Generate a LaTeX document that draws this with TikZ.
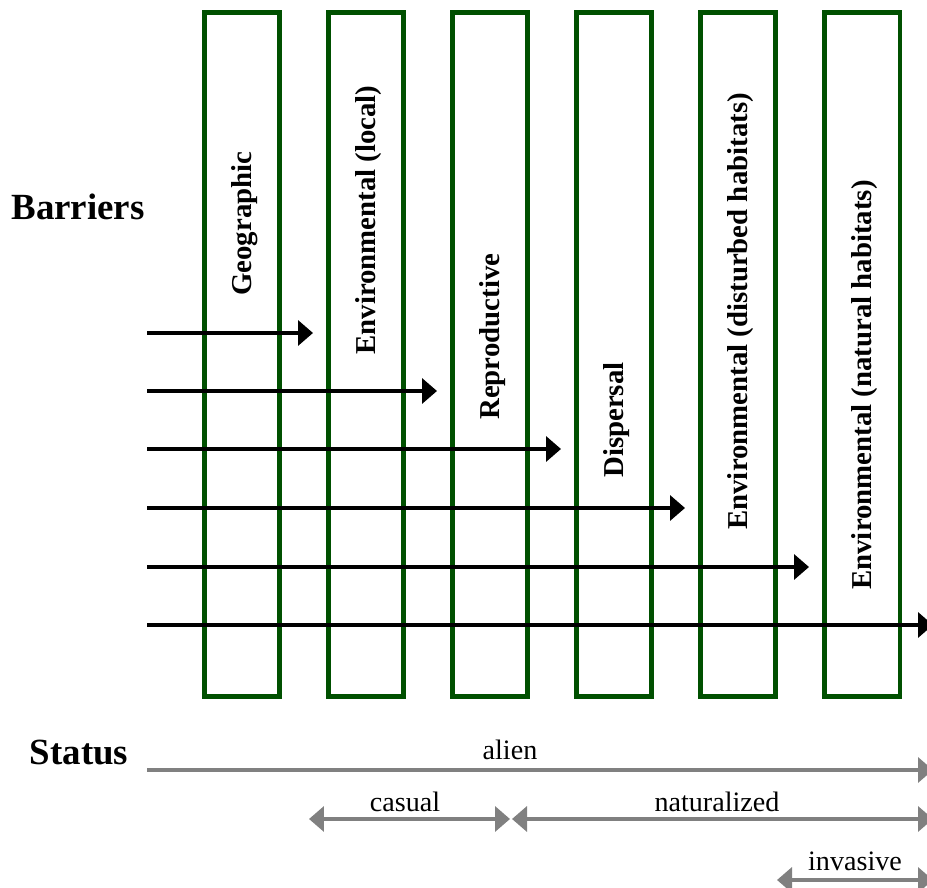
\documentclass[tikz,border=0pt]{standalone}
\usepackage{fontspec}
\setmainfont{Liberation Serif}
\usetikzlibrary{arrows.meta}
\definecolor{bargreen}{RGB}{0,80,0}
\definecolor{statgray}{RGB}{128,128,128}

\begin{document}
\begin{tikzpicture}[x=0.02cm, y=-0.02cm,
    barbox/.style={draw=bargreen, line width=0.1cm, rectangle, minimum width=1.52cm, minimum height=13.7cm, inner sep=0pt},
    barlabel/.style={rotate=90, anchor=west, inner sep=0pt, font=\fontsize{16.4}{18}\selectfont\bfseries},
    headtext/.style={font=\fontsize{21}{24}\selectfont\bfseries},
    stattext/.style={font=\fontsize{16}{18}\selectfont},
    passarrow/.style={-{Triangle[length=0.3cm, width=0.5cm]}, line width=0.07cm, draw=black},
    statarrow/.style={{Triangle[length=0.3cm, width=0.5cm]}-{Triangle[length=0.3cm, width=0.5cm]}, line width=0.07cm, draw=statgray},
    aliarrow/.style={-{Triangle[length=0.3cm, width=0.5cm]}, line width=0.07cm, draw=statgray}
]
\useasboundingbox (0,0) rectangle (927,888);

% barriers
\foreach \i/\xc/\yb/\txt in {1/242/296/Geographic,
                             2/366/355/Environmental (local),
                             3/490/420/Reproductive,
                             4/614/478/Dispersal,
                             5/738/530/Environmental (disturbed habitats),
                             6/862/590/Environmental (natural habitats)} {
    \node[barbox] (b\i) at (\xc,354.5) {};
    \node[barlabel] (t\i) at (\xc+3,\yb) {\txt};
}

\node[headtext] (barriers) at (78,207) {Barriers};

% passage arrows
\foreach \i/\y/\xe in {1/333/313, 2/391/437, 3/449/561, 4/508/685, 5/567/809, 6/625/933} {
    \coordinate (p\i) at (147,\y);
    \coordinate (q\i) at (\xe,\y);
    \draw[passarrow] (p\i) -- (q\i);
}

% status
\node[headtext] (status) at (79,753) {Status};

\coordinate (alienL) at (147,770);
\coordinate (alienR) at (933,770);
\coordinate (casualL) at (309,819);
\coordinate (casualR) at (510,819);
\coordinate (natL) at (512,819);
\coordinate (natR) at (933,819);
\coordinate (invL) at (777,880);
\coordinate (invR) at (933,880);

\draw[aliarrow] (alienL) -- (alienR);
\draw[statarrow] (casualL) -- (casualR);
\draw[statarrow] (natL) -- (natR);
\draw[statarrow] (invL) -- (invR);

\node[stattext] (alien) at (510,750) {alien};
\node[stattext] (casual) at (405,802) {casual};
\node[stattext] (natural) at (717,802) {naturalized};
\node[stattext] (invasive) at (855,861) {invasive};
\end{tikzpicture}
\end{document}
